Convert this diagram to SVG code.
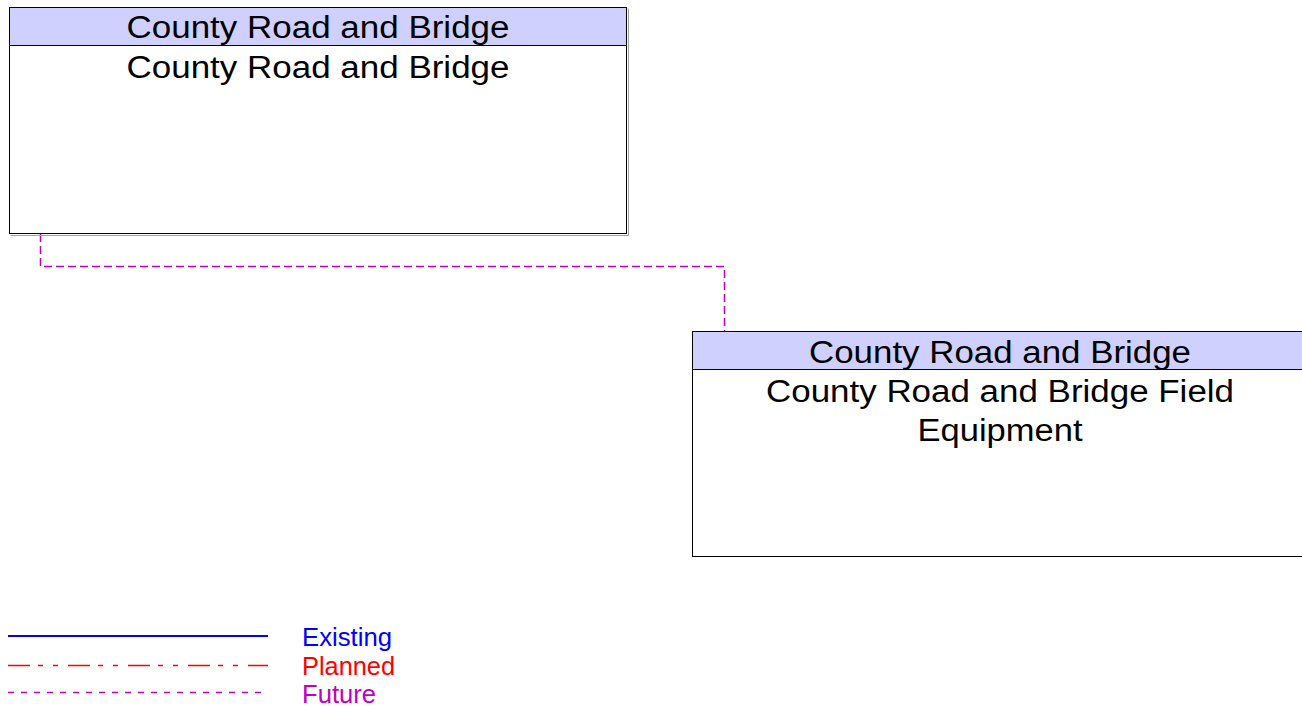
<svg xmlns="http://www.w3.org/2000/svg" width="1302" height="707" viewBox="0 0 1302 707">
<style>
.box{fill:#ffffff;stroke:#000000;stroke-width:1}
.shadow{fill:none;stroke:#a0a0a0;stroke-width:1}
.hdr{fill:#d0d0ff;stroke:#000000;stroke-width:1}
.t{font-family:"Liberation Sans",Arial,sans-serif;font-size:31px;fill:#000000;text-anchor:middle}
.lg{font-family:"Liberation Sans",Arial,sans-serif;font-size:25px}
.future{fill:none;stroke:#c000c0;stroke-width:1.5;stroke-dasharray:8 4}
</style>
<rect width="1302" height="707" fill="#ffffff"/>
<g id="connectors">
<polyline class="future" points="40.5,234 40.5,266.5 724.5,266.5 724.5,331"/>
</g>
<g id="node-county-road-bridge">
<path class="shadow" d="M628.5,8.5 V235.5 H10.5"/>
<rect class="box" x="9.5" y="7.5" width="617" height="226"/>
<rect class="hdr" x="9.5" y="7.5" width="617" height="38"/>
<text class="t" x="318" y="38" textLength="383" lengthAdjust="spacingAndGlyphs">County Road and Bridge</text>
<text class="t" x="318" y="78" textLength="383" lengthAdjust="spacingAndGlyphs">County Road and Bridge</text>
</g>
<g id="node-field-equipment">
<rect class="box" x="692.5" y="331.5" width="620" height="225"/>
<rect class="hdr" x="692.5" y="331.5" width="620" height="38"/>
<text class="t" x="1000" y="363" textLength="382" lengthAdjust="spacingAndGlyphs">County Road and Bridge</text>
<text class="t" x="1000" y="402" textLength="468" lengthAdjust="spacingAndGlyphs">County Road and Bridge Field</text>
<text class="t" x="1000" y="441" textLength="165" lengthAdjust="spacingAndGlyphs">Equipment</text>
</g>
<g id="legend">
<line x1="8" y1="636" x2="268" y2="636" stroke="#0000ff" stroke-width="2"/>
<line x1="8" y1="665.5" x2="268" y2="665.5" stroke="#ff0000" stroke-width="1.5" stroke-dasharray="22 8 5 10 5 10"/>
<line x1="8" y1="692.5" x2="262" y2="692.5" stroke="#c000c0" stroke-width="1.5" stroke-dasharray="6 7"/>
<text class="lg" x="302" y="646" fill="#0000ff" textLength="90" lengthAdjust="spacingAndGlyphs">Existing</text>
<text class="lg" x="302" y="675" fill="#ff0000" textLength="93" lengthAdjust="spacingAndGlyphs">Planned</text>
<text class="lg" x="302" y="703" fill="#c000c0" textLength="74" lengthAdjust="spacingAndGlyphs">Future</text>
</g>
</svg>
